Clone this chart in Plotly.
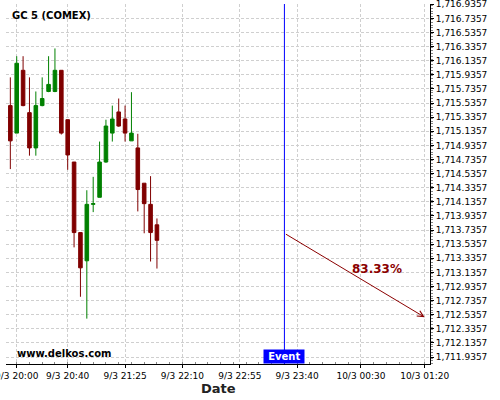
"""GC 5 (COMEX) 5-minute candles with event projection arrow."""

import plotly.graph_objects as go

TIMES = [
    "2020-03-09 19:55", "2020-03-09 20:00", "2020-03-09 20:05", "2020-03-09 20:10",
    "2020-03-09 20:15", "2020-03-09 20:20", "2020-03-09 20:25", "2020-03-09 20:30",
    "2020-03-09 20:35", "2020-03-09 20:40", "2020-03-09 20:45", "2020-03-09 20:50",
    "2020-03-09 20:55", "2020-03-09 21:00", "2020-03-09 21:05", "2020-03-09 21:10",
    "2020-03-09 21:15", "2020-03-09 21:20", "2020-03-09 21:25", "2020-03-09 21:30",
    "2020-03-09 21:35", "2020-03-09 21:40", "2020-03-09 21:45", "2020-03-09 21:50",
]
OPENS = [
    1715.50, 1715.11, 1716.00, 1715.40, 1714.90, 1715.50, 1715.70, 1715.70,
    1716.00, 1715.30, 1714.70, 1713.70, 1713.30, 1714.10, 1714.20, 1714.70,
    1715.11, 1715.41, 1715.31, 1715.00, 1714.90, 1714.40, 1714.10, 1713.81,
]
HIGHS = [
    1715.90, 1716.20, 1716.20, 1715.90, 1715.70, 1715.90, 1716.20, 1716.31,
    1716.00, 1715.30, 1714.70, 1713.70, 1714.30, 1714.49, 1714.99, 1715.30,
    1715.50, 1715.60, 1715.50, 1715.69, 1715.10, 1714.40, 1714.50, 1713.90,
]
LOWS = [
    1714.60, 1715.11, 1715.49, 1714.79, 1714.79, 1715.49, 1715.69, 1715.69,
    1715.09, 1714.59, 1713.49, 1712.79, 1712.48, 1713.99, 1714.20, 1714.69,
    1714.99, 1715.20, 1714.99, 1715.00, 1714.00, 1713.69, 1713.29, 1713.19,
]
CLOSES = [
    1715.00, 1716.10, 1715.50, 1714.90, 1715.50, 1715.60, 1715.80, 1716.00,
    1715.11, 1714.80, 1713.70, 1713.20, 1714.10, 1714.11, 1714.70, 1715.21,
    1715.31, 1715.21, 1715.11, 1715.11, 1714.31, 1714.11, 1713.70, 1713.59,
]

X_TICKS = [
    "2020-03-09 20:00", "2020-03-09 20:40", "2020-03-09 21:25", "2020-03-09 22:10",
    "2020-03-09 22:55", "2020-03-09 23:40", "2020-03-10 00:30", "2020-03-10 01:20",
]
X_TICK_LABELS = [
    "9/3 20:00", "9/3 20:40", "9/3 21:25", "9/3 22:10",
    "9/3 22:55", "9/3 23:40", "10/3 00:30", "10/3 01:20",
]

EVENT_TIME = "2020-03-09 23:30"
ARROW_START = 1713.69
ARROW_END_TIME = "2020-03-10 01:20"
ARROW_END = 1712.50
PROBABILITY = "83.33%"

GREEN = "#008000"
RED = "#800000"
GRID = "#cfcfcf"

fig = go.Figure(
    go.Candlestick(
        x=TIMES,
        open=OPENS,
        high=HIGHS,
        low=LOWS,
        close=CLOSES,
        increasing=dict(line=dict(color=GREEN, width=1), fillcolor=GREEN),
        decreasing=dict(line=dict(color=RED, width=1), fillcolor=RED),
        whiskerwidth=0,
        showlegend=False,
    )
)

# event marker
fig.add_shape(
    type="line", x0=EVENT_TIME, x1=EVENT_TIME, xref="x",
    y0=0, y1=1, yref="paper", line=dict(color="#0000ff", width=1),
)
fig.add_annotation(
    x=EVENT_TIME, y=0, xref="x", yref="paper", yanchor="bottom",
    text="&nbsp;<b>Event</b>&nbsp;", showarrow=False, bgcolor="#0000ff", borderpad=1,
    font=dict(color="white", size=10, family="DejaVu Sans"),
)

# projection arrow
fig.add_annotation(
    x=ARROW_END_TIME, y=ARROW_END, ax=EVENT_TIME, ay=ARROW_START,
    xref="x", yref="y", axref="x", ayref="y",
    text="", showarrow=True, arrowhead=5, arrowsize=1.2, arrowwidth=1,
    arrowcolor="#8b0000",
)
fig.add_annotation(
    x="2020-03-10 00:43", y=1713.18, xref="x", yref="y",
    text=f"<b>{PROBABILITY}</b>", showarrow=False,
    font=dict(color="#8b0000", size=12, family="DejaVu Sans"),
)

# labels
fig.add_annotation(
    x=0.0094, y=0.9686, xref="paper", yref="paper",
    xanchor="left", yanchor="middle",
    text="<b>GC 5 (COMEX)</b>", showarrow=False,
    font=dict(size=10, color="black"),
)
fig.add_annotation(
    x=0.0212, y=0.0286, xref="paper", yref="paper",
    xanchor="left", yanchor="middle",
    text="<b>www.delkos.com</b>", showarrow=False,
    font=dict(size=10, color="black"),
)
fig.add_annotation(
    x=0.5, y=-0.0694, xref="paper", yref="paper",
    xanchor="center", yanchor="middle",
    text="<b>Date</b>", showarrow=False,
    font=dict(size=13, color="#222"),
)

fig.update_layout(
    width=500,
    height=400,
    margin=dict(l=6, r=70, t=4, b=36),
    paper_bgcolor="white",
    plot_bgcolor="white",
    font=dict(family="DejaVu Sans", size=9, color="black"),
    boxgap=0.2,
    xaxis=dict(
        type="date",
        range=["2020-03-09 19:51:36", "2020-03-10 01:24:12"],
        rangeslider=dict(visible=False),
        automargin=False,
        ticklabeloverflow="allow",
        tickmode="array",
        tickvals=X_TICKS,
        ticktext=X_TICK_LABELS,
        ticks="outside",
        ticklen=3,
        tickcolor="black",
        showline=True,
        linecolor="black",
        linewidth=1,
        showgrid=True,
        gridcolor=GRID,
        griddash="3px,2px",
        zeroline=False,
        minor=dict(
            tickmode="linear", tick0="2020-03-09 20:00", dtick=600000,
            ticks="inside", ticklen=2, tickcolor="#888", showgrid=False,
        ),
    ),
    yaxis=dict(
        side="right",
        range=[1711.837, 1716.94],
        automargin=False,
        ticklabeloverflow="allow",
        tick0=1711.9357,
        dtick=0.2,
        tickformat=",.4f",
        ticks="outside",
        ticklen=3,
        tickcolor="black",
        showline=True,
        linecolor="black",
        linewidth=1,
        mirror=False,
        showgrid=True,
        gridcolor=GRID,
        griddash="3px,2px",
        zeroline=False,
        minor=dict(dtick=0.04, ticks="outside", ticklen=2, tickcolor="#888", showgrid=False),
    ),
)

# the default page has an 8px body margin; drop it so the chart sits at 0,0
fig.write_html(
    "out.html",
    config={"displayModeBar": False},
    post_script="document.body.style.margin = '0';",
)
